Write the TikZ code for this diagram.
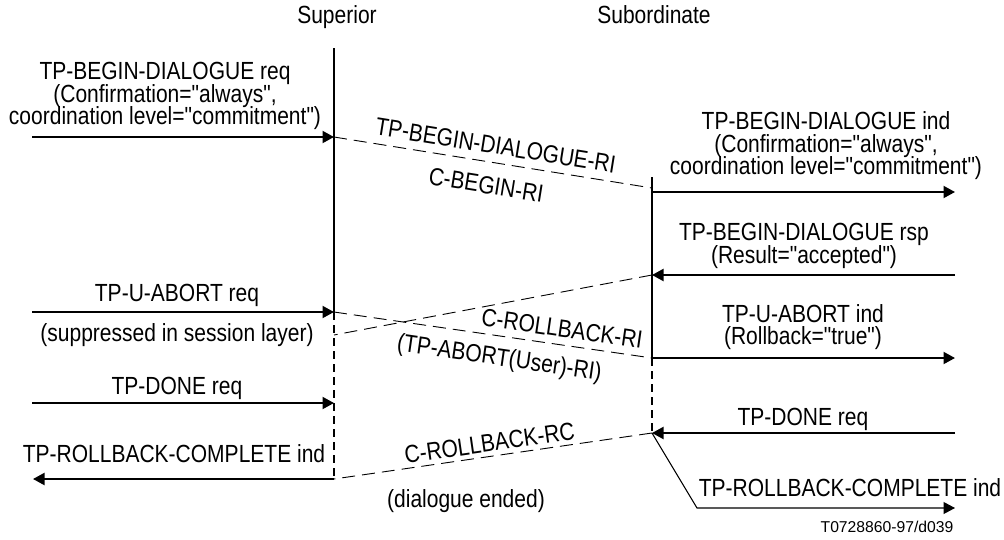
\documentclass[tikz,border=0pt]{standalone}
\usepackage{fontspec}
\setmainfont{Liberation Sans}[FakeStretch=0.847, Ligatures=TeXOff]
\newfontfamily\idfont{Liberation Sans}
\usetikzlibrary{arrows.meta}
\newcommand\lblfont{\fontsize{24.8}{22.7}\selectfont\lineskiplimit=-20pt\relax}
\tikzset{
  msg/.style={-{Triangle[length=11.5pt,width=12pt]}, line width=2pt},
  thinmsg/.style={-{Triangle[length=11.5pt,width=12pt]}, line width=1.1pt},
  pdu/.style={line width=0.9pt, dash pattern=on 13pt off 7pt},
  life/.style={line width=2pt},
  lifedash/.style={line width=2pt, dash pattern=on 8pt off 5pt},
  lbl/.style={font=\lblfont, align=center, inner sep=0pt},
  plbl/.style={font=\lblfont, sloped, inner sep=#1},
  plbl/.default=4pt
}
\begin{document}
\begin{tikzpicture}[x=1pt,y=-1pt]
  \useasboundingbox (0,0) rectangle (1004,539);
  % entities
  \node[lbl,anchor=base] (sup) at (337,23) {Superior};
  \node[lbl,anchor=base] (sub) at (654,23) {Subordinate};
  % points on the lifelines
  \coordinate (supTop) at (334,48);
  \coordinate (supA) at (334,137);
  \coordinate (supB) at (334,312);
  \coordinate (supC) at (334,335);
  \coordinate (supD) at (334,403);
  \coordinate (supE) at (334,479);
  \coordinate (subTop) at (652,177);
  \coordinate (subIn) at (652,188);
  \coordinate (subA) at (652,192);
  \coordinate (subB) at (652,275);
  \coordinate (subC) at (652,358);
  \coordinate (subD) at (652,433);
  % free ends
  \coordinate (inBegin) at (32,137);
  \coordinate (inAbort) at (32,312);
  \coordinate (inDone) at (32,403);
  \coordinate (outRc) at (33,479);
  \coordinate (outBegin) at (955,192);
  \coordinate (inRsp) at (955,275);
  \coordinate (outAbort) at (955,358);
  \coordinate (inDone2) at (955,433);
  \coordinate (bend) at (697,508);
  \coordinate (outRc2) at (955,508);

  \draw[life] (supTop) -- (supB);
  \draw[lifedash] (supB) -- (supE);
  \draw[life] (subTop) -- (subC);
  \draw[lifedash] (subC) -- (subD);

  \foreach \a/\b in {inBegin/supA, subA/outBegin, inRsp/subB, inAbort/supB,
                     subC/outAbort, inDone/supD, inDone2/subD, supE/outRc}
    \draw[msg] (\a) -- (\b);
  \draw[thinmsg] (subD) -- (bend) -- (outRc2);

  \draw[pdu] (supA) -- node[plbl=8pt,above,pos=0.5] {TP-BEGIN-DIALOGUE-RI}
    node[plbl=14pt,below,pos=0.49] {C-BEGIN-RI} (subIn);
  \draw[pdu] (subB) -- (supC);
  \draw[pdu] (supB) -- node[plbl=7pt,above,pos=0.71] {C-ROLLBACK-RI}
    node[plbl=11pt,below,pos=0.53] {(TP-ABORT(User)-RI)} (subC);
  \draw[pdu] (subD) -- node[plbl=4pt,above,pos=0.505] {C-ROLLBACK-RC} (supE);

  % primitives
  \node[lbl,anchor=south] (reqBegin) at (165,130.3) {TP-BEGIN-DIALOGUE req\\(Confirmation="always",\\coordination level="commitment")};
  \node[lbl,anchor=south] (indBegin) at (826,180.3) {TP-BEGIN-DIALOGUE ind\\(Confirmation="always",\\coordination level="commitment")};
  \node[lbl,anchor=south] (rspBegin) at (804,268.6) {TP-BEGIN-DIALOGUE rsp\\(Result="accepted")};
  \node[lbl,anchor=base] (reqAbort) at (177,301.7) {TP-U-ABORT req};
  \node[lbl,anchor=base] (suppr) at (177,341.5) {(suppressed in session layer)};
  \node[lbl,anchor=south] (indAbort) at (803,350.3) {TP-U-ABORT ind\\(Rollback="true")};
  \node[lbl,anchor=base] (reqDone) at (177,394) {TP-DONE req};
  \node[lbl,anchor=base] (reqDone2) at (803,425) {TP-DONE req};
  \node[lbl,anchor=base] (indRc) at (174,462.7) {TP-ROLLBACK-COMPLETE ind};
  \node[lbl,anchor=base] (indRc2) at (850,496.7) {TP-ROLLBACK-COMPLETE ind};
  \node[lbl,anchor=base] (ended) at (466,507.3) {(dialogue ended)};
  \node[lbl,anchor=base,font=\idfont\fontsize{15.7}{18}\selectfont] (figid) at (887,532.7) {T0728860-97/d039};
\end{tikzpicture}
\end{document}
